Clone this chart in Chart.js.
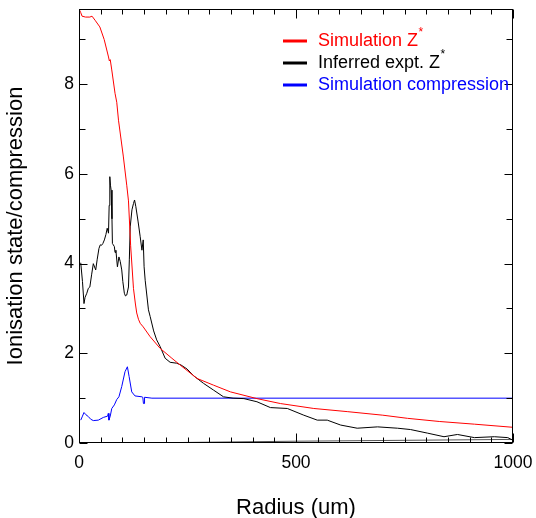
<!DOCTYPE html>
<html><head><meta charset="utf-8">
<script src="https://cdn.jsdelivr.net/npm/chart.js@4/dist/chart.umd.min.js"></script>
<style>html,body{margin:0;padding:0;background:#fff;}</style>
</head><body>
<canvas id="c" width="536" height="518"></canvas>
<script>
// ---- data ----
const seriesLabels = ['Simulation Z*', 'Inferred expt. Z*', 'Simulation compression'];
const xTickLabels = [0, 500, 1000];
const yTickLabels = [0, 2, 4, 6, 8];
const xAxisTitle = 'Radius (um)';
const yAxisTitle = 'Ionisation state/compression';

const simZRadius = [0, 4, 7, 15, 25, 30, 37, 48, 58, 68, 70, 72, 75.5, 83, 87, 91, 102, 110, 114, 119, 125.5, 130, 133, 137, 141, 148, 164, 187, 214, 233, 272, 310, 349, 410, 464, 541, 618, 700, 757, 830, 911, 1000];
const simZValues = [9.68, 9.6, 9.52, 9.5, 9.5, 9.52, 9.43, 9.28, 9.0, 8.61, 8.52, 8.55, 8.32, 7.8, 7.6, 7.2, 6.4, 5.75, 5.4, 4.4, 3.45, 3.1, 2.9, 2.76, 2.67, 2.59, 2.37, 2.11, 1.89, 1.74, 1.44, 1.29, 1.14, 0.99, 0.88, 0.77, 0.70, 0.62, 0.55, 0.48, 0.42, 0.35];

const exptZRadius = [4, 8, 11.5, 14, 18, 21.5, 25, 29, 33, 38.5, 42, 46, 49, 52, 55, 58.5, 62, 65, 68, 69.5, 71, 72.5, 74, 76, 77, 79, 81.5, 83, 85, 88.5, 92, 95, 98.5, 101, 104.5, 107, 110, 114, 116, 118, 122, 125.5, 128, 131, 136, 141, 145, 148, 150, 152.5, 160, 164, 172, 179, 187, 198.5, 210, 225, 235, 249, 264, 287, 310, 333, 355, 380, 410, 441, 480, 518, 549, 572, 603, 641, 688, 734, 764, 803, 841, 872, 911, 957, 988, 1000];
const exptZValues = [4.02, 3.6, 3.11, 3.25, 3.34, 3.45, 3.48, 3.75, 4.0, 3.86, 4.1, 4.34, 4.42, 4.41, 4.45, 4.53, 4.65, 4.79, 4.68, 5.3, 5.94, 5.75, 5.64, 5.0, 4.45, 4.42, 4.38, 4.25, 4.30, 3.93, 4.15, 4.05, 3.86, 3.6, 3.34, 3.28, 3.30, 3.48, 4.1, 4.82, 5.2, 5.34, 5.42, 5.27, 4.95, 4.60, 4.30, 4.53, 3.93, 3.63, 2.97, 2.82, 2.5, 2.30, 2.15, 1.89, 1.80, 1.78, 1.74, 1.65, 1.50, 1.33, 1.18, 1.03, 1.0, 0.99, 0.92, 0.79, 0.77, 0.62, 0.51, 0.51, 0.40, 0.33, 0.36, 0.33, 0.30, 0.22, 0.14, 0.19, 0.12, 0.14, 0.12, 0.06];

const compRadius = [4, 8, 11.5, 16, 21.5, 27, 33, 44.5, 56, 66, 67.5, 69, 72, 75.5, 81.5, 87, 92, 98.5, 106, 111.5, 115.5, 121.5, 129, 145, 147, 148.5, 150, 151, 168, 1000];
const compValues = [0.51, 0.6, 0.68, 0.63, 0.59, 0.53, 0.50, 0.51, 0.57, 0.60, 0.66, 0.51, 0.6, 0.77, 0.85, 0.97, 1.03, 1.26, 1.59, 1.70, 1.48, 1.14, 1.05, 1.03, 1.02, 0.88, 0.88, 1.02, 1.0, 1.0];

const baseRadius = [0, 130, 500, 1000];
const baseValues = [0, 0, 0.04, 0.08];

const xMin = 0, xMax = 1000, xMinorStep = 50;
const yMin = 0, yMax = 9.68, yMinorStep = 1;
// ---------------------------------------

const pts = (xs, ys) => xs.map((x, i) => ({x, y: ys[i]}));
const FONT = '"Liberation Sans", Arial, Helvetica, sans-serif';

const framePlugin = {
  id: 'frame',
  afterDatasetsDraw(chart) {
    const {ctx, chartArea: a, scales: {x, y}} = chart;
    ctx.save();
    ctx.strokeStyle = '#000';
    ctx.lineWidth = 1;
    const L = Math.round(a.left) + 0.5, R = Math.round(a.right) - 0.5;
    const T = Math.round(a.top) + 0.5, B = Math.round(a.bottom) - 0.5;
    ctx.strokeRect(L, T, R - L, B - T);
    ctx.beginPath();
    for (let v = xMin; v <= xMax + 1e-9; v += xMinorStep) {
      const px = Math.round(x.getPixelForValue(v)) + 0.5;
      const len = xTickLabels.includes(v) ? 9 : 5;
      ctx.moveTo(px, B); ctx.lineTo(px, B - len);
      ctx.moveTo(px, T); ctx.lineTo(px, T + len);
    }
    for (let v = yMin; v <= yMax + 1e-9; v += yMinorStep) {
      const py = Math.round(y.getPixelForValue(v)) + 0.5;
      const len = yTickLabels.includes(v) ? 8 : 6;
      ctx.moveTo(L, py); ctx.lineTo(L + len, py);
      ctx.moveTo(R, py); ctx.lineTo(R - len, py);
    }
    ctx.stroke();
    ctx.restore();
  }
};

const legendPlugin = {
  id: 'customLegend',
  afterDraw(chart) {
    const ctx = chart.ctx;
    ctx.save();
    let row = 0;
    chart.data.datasets.forEach(ds => {
      if (!ds.label) return;
      const yy = 41 + row * 22;
      ctx.strokeStyle = ds.borderColor;
      ctx.lineWidth = 3;
      ctx.beginPath(); ctx.moveTo(283, yy); ctx.lineTo(307, yy); ctx.stroke();
      ctx.fillStyle = ds.borderColor;
      ctx.textBaseline = 'middle';
      ctx.textAlign = 'left';
      let text = ds.label, sup = '';
      if (text.endsWith('*')) { sup = '*'; text = text.slice(0, -1); }
      ctx.font = '18px ' + FONT;
      ctx.fillText(text, 318, yy);
      if (sup) {
        const w = ctx.measureText(text).width;
        ctx.font = '12px ' + FONT;
        ctx.fillText(sup, 318 + w + 0.5, yy - 8);
      }
      row++;
    });
    ctx.restore();
  }
};

new Chart(document.getElementById('c'), {
  type: 'scatter',
  data: {
    datasets: [
      {label: seriesLabels[0], data: pts(simZRadius, simZValues), borderColor: '#ff0000', borderWidth: 1, showLine: true, pointRadius: 0, order: 1},
      {label: seriesLabels[1], data: pts(exptZRadius, exptZValues), borderColor: '#000000', borderWidth: 1, showLine: true, pointRadius: 0, order: 2},
      {label: seriesLabels[2], data: pts(compRadius, compValues), borderColor: '#0000ff', borderWidth: 1, showLine: true, pointRadius: 0, order: 3},
      {data: pts(baseRadius, baseValues), borderColor: '#555555', borderWidth: 1, showLine: true, pointRadius: 0, order: 4}
    ]
  },
  options: {
    responsive: false,
    animation: false,
    layout: {padding: {left: 0, right: 23, top: 9, bottom: 0}},
    plugins: {legend: {display: false}, tooltip: {enabled: false}},
    scales: {
      x: {
        type: 'linear', min: xMin, max: xMax,
        grid: {display: false, drawTicks: false},
        border: {display: false},
        ticks: {
          stepSize: xMinorStep, autoSkip: false, maxRotation: 0, padding: 10,
          color: '#000', font: {family: FONT, size: 17.5},
          callback: v => xTickLabels.includes(v) ? String(v) : null
        },
        title: {display: true, text: xAxisTitle, color: '#000', font: {family: FONT, size: 22}, padding: {top: 0, bottom: -3}},
        afterFit: s => { s.height = 75; s.paddingLeft = 0; s.paddingRight = 0; }
      },
      y: {
        type: 'linear', min: yMin, max: yMax,
        grid: {display: false, drawTicks: false},
        border: {display: false},
        ticks: {
          stepSize: yMinorStep, includeBounds: false, autoSkip: false, padding: 5,
          color: '#000', font: {family: FONT, size: 17.5},
          callback: v => yTickLabels.includes(v) ? String(v) : null
        },
        title: {display: true, text: yAxisTitle, color: '#000', font: {family: FONT, size: 22}, padding: {top: 3, bottom: 0}},
        afterFit: s => { s.width = 79; s.paddingTop = 0; s.paddingBottom = 0; }
      }
    }
  },
  plugins: [framePlugin, legendPlugin]
});
</script>
</body></html>
